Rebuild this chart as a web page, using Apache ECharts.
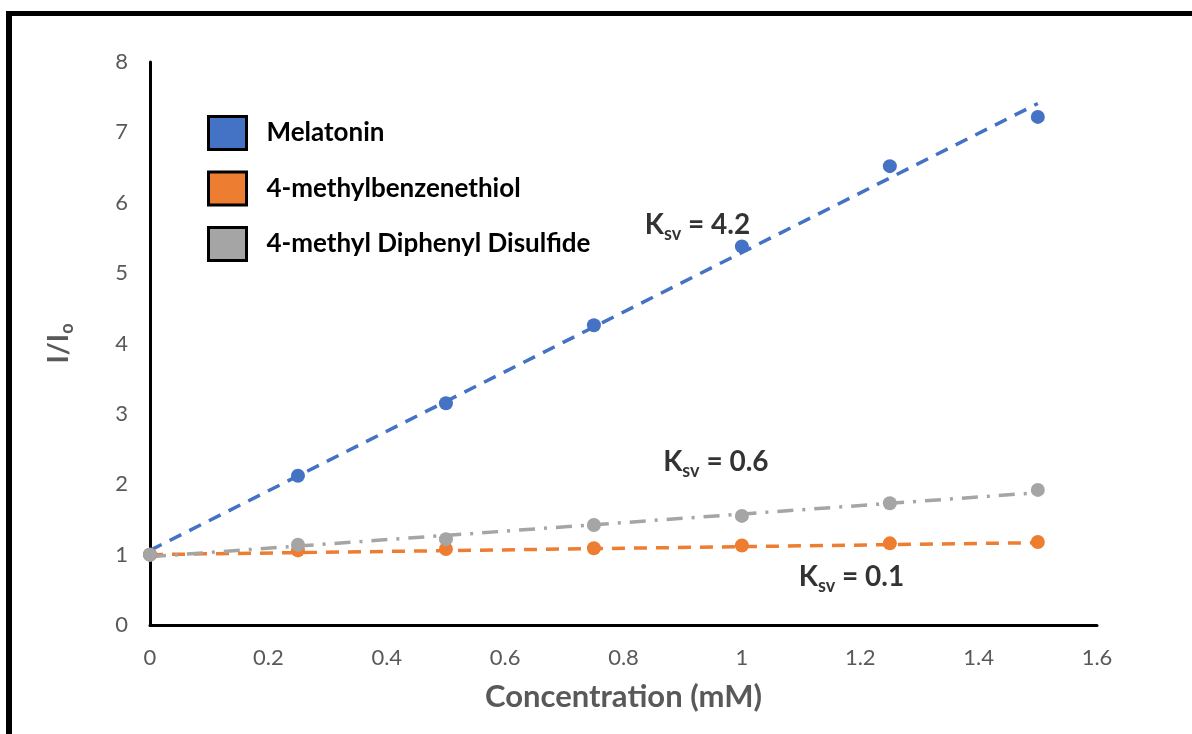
<!DOCTYPE html>
<html>
<head>
<meta charset="UTF-8">
<title></title>
<script src="https://cdn.jsdelivr.net/npm/echarts@6/dist/echarts.min.js"></script>
<style>
body{margin:0;background:#fff;overflow:hidden;}
#chart{position:absolute;left:0;top:0;width:1192px;height:734px;}
#frame{position:absolute;left:6px;top:11px;width:1200px;height:740px;border-top:5px solid #000;border-left:6px solid #000;pointer-events:none;}
</style>
</head>
<body>
<div id="chart"></div>
<div id="frame"></div>
<script type="text/javascript">
// measured points
var conc = [0, 0.25, 0.5, 0.75, 1, 1.25, 1.5];
var melatonin = [1.0, 2.12, 3.15, 4.26, 5.38, 6.52, 7.22];
var thiol = [1.0, 1.06, 1.08, 1.09, 1.13, 1.16, 1.18];
var disulfide = [1.0, 1.14, 1.22, 1.42, 1.55, 1.73, 1.92];
// trend line ends
var trendX = [0, 1.5];
var melatoninFit = [1.06, 7.41];
var thiolFit = [1.0, 1.17];
var disulfideFit = [0.97, 1.88];
// Ksv notes: x, y, value
var ksvNotes = [[0.836, 5.68, '4.2'], [0.867, 2.32, '0.6'], [1.096, 0.68, '0.1']];

var names = ['Melatonin', '4-methylbenzenethiol', '4-methyl Diphenyl Disulfide'];
var colors = ['#4472C4', '#ED7D31', '#A5A5A5'];
var FONT = 'Lato';

function pts(xs, ys) {
    return xs.map(function (x, i) { return [x, ys[i]]; });
}

var chart = echarts.init(document.getElementById('chart'));

var series = [];
[melatonin, thiol, disulfide].forEach(function (ys, i) {
    series.push({
        name: names[i], type: 'scatter', symbol: 'circle', symbolSize: 14,
        itemStyle: {color: colors[i], opacity: 1}, z: 3,
        data: pts(conc, ys)
    });
});
var fitTypes = [[13, 9], [13, 9], [16, 9, 3, 9]];
[melatoninFit, thiolFit, disulfideFit].forEach(function (ys, i) {
    series.push({
        name: 'fit' + i, type: 'line', showSymbol: false, symbol: 'none', z: 2,
        lineStyle: {color: colors[i], width: 3.5, type: fitTypes[i]},
        data: pts(trendX, ys)
    });
});
series.push({
    name: 'ksv', type: 'scatter', symbolSize: 0, z: 5,
    label: {
        show: true, position: 'right', distance: 0,
        formatter: function (p) { return '{k|K}{s|sv}{k| = ' + p.value[2] + '}'; },
        rich: {
            k: {fontFamily: FONT, fontSize: 28, fontWeight: 'bold', color: '#000', lineHeight: 36},
            s: {fontFamily: FONT, fontSize: 18, fontWeight: 'bold', color: '#000', lineHeight: 16, verticalAlign: 'bottom'}
        }
    },
    data: ksvNotes
});

chart.setOption({
    backgroundColor: '#fff',
    animation: false,
    grid: {left: 150, top: 62, right: 95, bottom: 109},
    legend: {
        data: names, orient: 'vertical', left: 207, top: 115, padding: 0,
        icon: 'rect', itemWidth: 38, itemHeight: 33, itemGap: 19.5,
        itemStyle: {borderColor: '#000', borderWidth: 3},
        textStyle: {fontFamily: FONT, fontSize: 26, fontWeight: 'bold', color: '#000', padding: [0, 0, 0, 15]}
    },
    xAxis: {
        type: 'value', min: 0, max: 1.6, interval: 0.2,
        name: 'Concentration (mM)', nameLocation: 'middle', nameGap: 56,
        nameTextStyle: {fontFamily: FONT, fontSize: 31, fontWeight: 'bold', color: '#595959'},
        splitLine: {show: false}, axisTick: {show: false},
        axisLine: {lineStyle: {color: '#000', width: 3}},
        axisLabel: {fontFamily: FONT, fontSize: 22, color: '#595959', margin: 22}
    },
    yAxis: {
        type: 'value', min: 0, max: 8, interval: 1,
        name: '{a|I/I}{b|o}', nameLocation: 'middle', nameGap: 74, nameRotate: 90,
        nameTextStyle: {
            rich: {
                a: {fontFamily: FONT, fontSize: 28, fontWeight: 'bold', color: '#595959', lineHeight: 34},
                b: {fontFamily: FONT, fontSize: 18, fontWeight: 'bold', color: '#595959', lineHeight: 16, verticalAlign: 'bottom'}
            }
        },
        splitLine: {show: false}, axisTick: {show: false},
        axisLine: {lineStyle: {color: '#000', width: 3}},
        axisLabel: {fontFamily: FONT, fontSize: 22, color: '#595959', margin: 22}
    },
    series: series
});
</script>
</body>
</html>
